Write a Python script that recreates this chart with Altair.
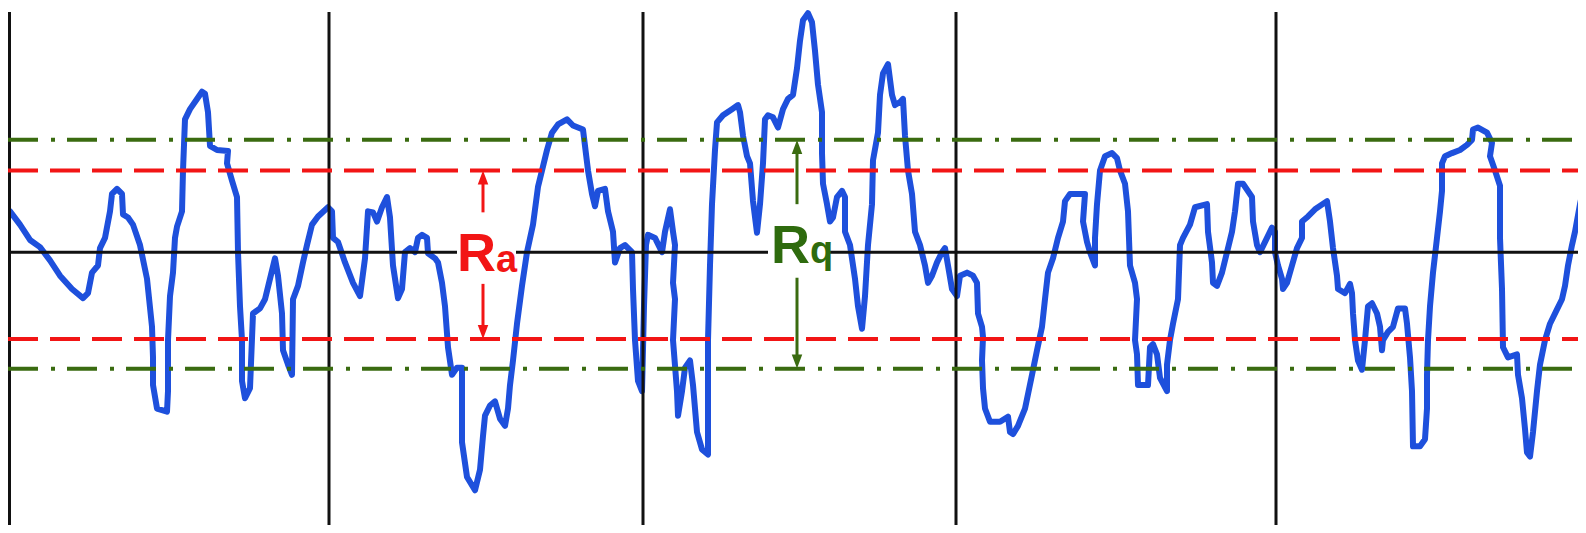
import altair as alt
import pandas as pd

# Surface roughness profile: position along the trace and height relative to the mean line
profile_x = [10, 20, 30, 40, 50, 60, 72, 83, 88, 92, 98, 100, 105, 110, 112, 117, 122, 123, 128, 133,
             140, 147, 152, 153, 153, 157, 167, 168, 168, 170, 173, 175, 177, 182, 183, 185, 190, 197, 202, 205,
             208, 210, 217, 228, 227, 232, 237, 238, 240, 242, 242, 245, 250, 253, 260, 265, 270, 275, 278, 282,
             283, 288, 292, 293, 298, 303, 307, 312, 318, 328,
             332, 333, 338, 345, 353, 360, 365, 368, 373, 377, 382, 387, 390, 393, 398, 402, 405, 410, 415, 418,
             422, 427, 428, 435, 438, 442, 445, 448, 452, 457, 462, 462, 462, 467, 475, 480, 483, 485, 490, 495,
             500, 505, 508, 510, 513, 517, 522, 527, 533, 538, 542, 547, 552, 558, 567, 573, 583, 585, 588, 592,
             595, 598, 605, 608, 613, 615, 620, 625, 632, 633, 635, 638, 642, 644, 646, 648, 655, 662, 665, 670,
             673, 675, 673, 675, 673, 677, 678, 682, 685, 690, 693, 697, 702, 708, 708, 708, 710, 712, 715, 717,
             723, 732, 738, 740, 743, 747, 750, 753, 757, 760, 763, 765, 768, 773, 778, 783, 788, 793, 797, 800,
             803, 808, 812, 815, 818, 822, 822, 823, 827, 830, 833, 837, 842, 845, 845, 850, 855, 858, 862, 865,
             868, 872, 873, 878, 880, 883, 888, 892, 895, 900, 903, 905, 908, 912, 915, 920, 925, 928, 932, 937,
             942, 945, 948, 952, 957, 960, 967, 973, 977, 978, 982, 983, 982, 983, 985, 990, 1000, 1008, 1010, 1013,
             1018, 1025, 1032, 1037, 1042, 1045, 1048, 1053, 1058, 1063, 1065, 1070, 1085, 1083, 1087, 1090, 1095, 1095, 1097, 1100,
             1105, 1112, 1117, 1120, 1125, 1128, 1130, 1135, 1137, 1135, 1137, 1138, 1148, 1150, 1153, 1157, 1160, 1167, 1167, 1170,
             1173, 1178, 1180, 1183, 1190, 1195, 1207, 1208, 1212, 1213, 1217, 1222, 1227, 1232, 1235, 1238, 1243, 1252, 1253, 1257,
             1260, 1262, 1267, 1272, 1275, 1275, 1278, 1282, 1283, 1287, 1292, 1297, 1302, 1302, 1308, 1315, 1327, 1330, 1333, 1337,
             1338, 1345, 1350, 1352, 1353, 1355, 1358, 1362, 1365, 1368, 1372, 1377, 1380, 1382, 1383, 1388, 1393, 1398, 1405, 1407,
             1410, 1412, 1413, 1420, 1425, 1427, 1427, 1428, 1430, 1433, 1437, 1440, 1442, 1442, 1445, 1452, 1460, 1467, 1472, 1473,
             1478, 1487, 1492, 1490, 1495, 1500, 1500, 1502, 1503, 1508, 1517, 1518, 1522, 1525, 1527, 1530, 1533, 1537, 1540, 1545,
             1550, 1557, 1562, 1565, 1568, 1572, 1575, 1580, 1586]
profile_h = [40, 27, 12, 5, -8, -23, -36, -45, -40, -20, -13, 4, 14, 40, 57, 62, 57, 37, 34, 27,
             7, -26, -73, -103, -130, -153, -156, -136, -86, -43, -20, 14, 25, 40, 80, 130, 140, 150, 157, 155,
             137, 104, 100, 99, 87, 70, 54, 0, -53, -86, -126, -143, -133, -60, -55, -46, -26, -6, -23, -60,
             -96, -110, -120, -46, -33, -10, 7, 27, 35, 44,
             40, 14, 10, -10, -30, -43, -6, 40, 39, 30, 44, 54, 34, -13, -45, -36, 0, 4, 0, 14,
             17, 14, -1, -6, -10, -30, -53, -93, -120, -113, -113, -153, -186, -220, -233, -213, -180, -160, -150, -146,
             -163, -170, -153, -130, -106, -70, -33, 0, 27, 64, 80, 100, 117, 125, 130, 124, 120, 104, 80, 57,
             45, 60, 62, 40, 20, -10, 4, 7, 0, -36, -86, -126, -136, -53, 7, 17, 14, 0, 20, 42,
             20, 7, -30, -46, -86, -136, -160, -136, -113, -106, -130, -176, -193, -198, -153, -86, -13, 47, 100, 127,
             134, 140, 144, 137, 114, 94, 87, 50, 19, 47, 87, 130, 134, 132, 122, 140, 150, 154, 180, 207,
             227, 234, 225, 197, 164, 137, 97, 67, 47, 30, 34, 54, 60, 54, 20, 7, -26, -53, -75, -43,
             7, 47, 90, 117, 154, 175, 184, 154, 144, 147, 150, 114, 80, 57, 20, 7, -13, -30, -23, -10,
             0, 4, -13, -36, -43, -23, -20, -23, -30, -60, -73, -83, -106, -133, -153, -166, -166, -161, -176, -178,
             -170, -153, -120, -96, -73, -46, -20, -6, 14, 30, 50, 57, 57, 30, 10, 0, -13, 14, 47, 80,
             94, 97, 92, 80, 67, 40, -13, -30, -46, -86, -100, -130, -130, -93, -90, -100, -123, -136, -110, -86,
             -70, -46, 7, 14, 27, 44, 47, 20, -10, -30, -33, -20, 0, 20, 40, 67, 67, 54, 30, 7,
             0, 4, 14, 24, 20, 0, -13, -26, -36, -30, -13, 4, 14, 30, 35, 42, 50, 30, 4, -23,
             -36, -40, -31, -40, -60, -86, -106, -115, -86, -53, -50, -60, -73, -96, -86, -78, -73, -55, -55, -70,
             -103, -136, -190, -190, -183, -153, -120, -86, -53, -20, 14, 40, 60, 87, 94, 97, 100, 105, 110, 120,
             122, 117, 107, 94, 80, 65, 14, -36, -93, -103, -100, -120, -143, -173, -196, -200, -176, -136, -110, -86,
             -70, -56, -46, -33, -13, 7, 20, 47, 74]

# Sampling-length boundaries and reference levels
boundary_x = [9.5, 329, 643, 956, 1276]
boundary_top = 235
boundary_bottom = -267
mean_from = [8, 516, 829]
mean_to = [457, 768, 1586]
ra_levels = [80, -85]
rq_levels = [110, -114]
line_from, line_to = 8, 1586

# Arrows: x, shaft start, shaft end, head centre, direction
arrow_x = [483, 483, 797, 797]
arrow_s1 = [39, -31, 47, -25]
arrow_s2 = [68, -73, 97, -101]
arrow_head = [73, -78, 103, -107]
arrow_dir = ["up", "down", "up", "down"]
arrow_col = ["#f21515", "#f21515", "#3a6b10", "#3a6b10"]

# Labels
label_x = [457, 496, 771, 810]
label_h = [-18, -19, -11, -11]
label_txt = ["R", "a", "R", "q"]
label_size = [54, 38, 54, 38]
label_col = ["#f21515", "#f21515", "#2e6b0e", "#2e6b0e"]

RED = "#f21515"
GREEN = "#3a6b10"
BLUE = "#1e50dc"
BLACK = "#111111"

xs = alt.Scale(domain=[8, 1578], nice=False, zero=False)
ys = alt.Scale(domain=[-267, 239], nice=False, zero=False)

prof = pd.DataFrame({"x": profile_x, "h": profile_h, "i": range(len(profile_x))})
bnd = pd.DataFrame({"x": boundary_x, "top": boundary_top, "bottom": boundary_bottom})
mean = pd.DataFrame({"x": mean_from, "x2": mean_to, "h": 0})
ra = pd.DataFrame({"x": line_from, "x2": line_to, "h": ra_levels})
rq = pd.DataFrame({"x": line_from, "x2": line_to, "h": rq_levels})
arr = pd.DataFrame({"x": arrow_x, "s1": arrow_s1, "s2": arrow_s2, "hc": arrow_head,
                    "dir": arrow_dir, "col": arrow_col})
lab = pd.DataFrame({"x": label_x, "h": label_h, "t": label_txt, "fs": label_size, "col": label_col})

profile = alt.Chart(prof).mark_line(color=BLUE, strokeWidth=6, strokeJoin="round", strokeCap="round").encode(
    x=alt.X("x:Q", scale=xs, axis=None),
    y=alt.Y("h:Q", scale=ys, axis=None),
    order="i:Q",
)

bounds = alt.Chart(bnd).mark_rule(color=BLACK, strokeWidth=3).encode(
    x=alt.X("x:Q", scale=xs, axis=None),
    y=alt.Y("top:Q", scale=ys, axis=None),
    y2="bottom:Q",
)

mean_line = alt.Chart(mean).mark_rule(color=BLACK, strokeWidth=3).encode(
    x=alt.X("x:Q", scale=xs, axis=None), x2="x2:Q",
    y=alt.Y("h:Q", scale=ys, axis=None),
)

ra_lines = alt.Chart(ra).mark_rule(color=RED, strokeWidth=4, strokeDash=[30, 12]).encode(
    x=alt.X("x:Q", scale=xs, axis=None), x2="x2:Q",
    y=alt.Y("h:Q", scale=ys, axis=None),
)

rq_lines = alt.Chart(rq).mark_rule(color=GREEN, strokeWidth=4, strokeDash=[30, 13, 4, 12]).encode(
    x=alt.X("x:Q", scale=xs, axis=None), x2="x2:Q",
    y=alt.Y("h:Q", scale=ys, axis=None),
)

shafts = alt.Chart(arr).mark_rule(strokeWidth=3).encode(
    x=alt.X("x:Q", scale=xs, axis=None),
    y=alt.Y("s1:Q", scale=ys, axis=None), y2="s2:Q",
    color=alt.Color("col:N", scale=None),
)

heads_up = alt.Chart(arr).transform_filter(alt.datum.dir == "up").mark_point(
    shape="M0,-1L0.75,1L-0.75,1Z", filled=True, size=196, opacity=1, strokeWidth=0).encode(
    x=alt.X("x:Q", scale=xs, axis=None),
    y=alt.Y("hc:Q", scale=ys, axis=None),
    color=alt.Color("col:N", scale=None),
)

heads_down = alt.Chart(arr).transform_filter(alt.datum.dir == "down").mark_point(
    shape="M0,1L0.75,-1L-0.75,-1Z", filled=True, size=196, opacity=1, strokeWidth=0).encode(
    x=alt.X("x:Q", scale=xs, axis=None),
    y=alt.Y("hc:Q", scale=ys, axis=None),
    color=alt.Color("col:N", scale=None),
)

labels = alt.Chart(lab).mark_text(
    align="left", baseline="alphabetic", font="Liberation Sans", fontWeight="bold").encode(
    x=alt.X("x:Q", scale=xs, axis=None),
    y=alt.Y("h:Q", scale=ys, axis=None),
    text="t:N",
    size=alt.Size("fs:Q", scale=None),
    color=alt.Color("col:N", scale=None),
)

chart = alt.layer(profile, bounds, mean_line, ra_lines, rq_lines, shafts, heads_up, heads_down, labels).properties(
    width=1570, height=517, padding=0,
    autosize=alt.AutoSizeParams(type="none"),
    background="white",
).configure_view(stroke=None)

chart.save("out.html", embed_options={"renderer": "svg", "actions": False})
